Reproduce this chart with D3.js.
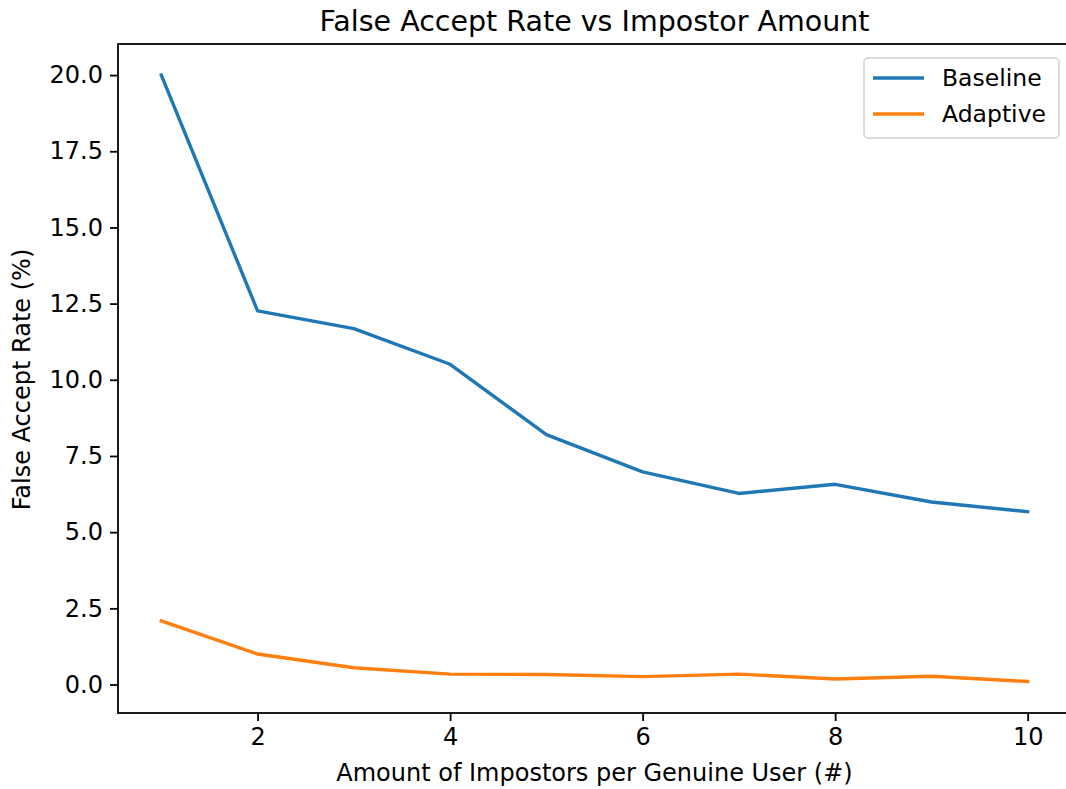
<!DOCTYPE html>
<html>
<head>
<meta charset="utf-8">
<script src="https://cdn.jsdelivr.net/npm/d3@7"></script>
<style>
  html, body { margin: 0; padding: 0; background: #fff; }
  svg { display: block; font-family: "DejaVu Sans", sans-serif; }
</style>
</head>
<body>
<svg id="chart" width="1066" height="789"></svg>
<script>
const impostors = [1, 2, 3, 4, 5, 6, 7, 8, 9, 10];
const baseline = [20.0, 12.26, 11.68, 10.51, 8.20, 6.98, 6.27, 6.57, 5.99, 5.67];
const adaptive = [2.09, 1.00, 0.55, 0.34, 0.33, 0.26, 0.34, 0.18, 0.27, 0.10];
const xTicks = [2, 4, 6, 8, 10];
const yTicks = [0, 2.5, 5, 7.5, 10, 12.5, 15, 17.5, 20];
const seriesNames = ["Baseline", "Adaptive"];
const seriesColors = ["#1f77b4", "#ff7f0e"];

const svg = d3.select("#chart");
const mLeft = 118, mRight = 1071, mTop = 44, mBottom = 713;

const x = d3.scaleLinear().domain([0.55, 10.45]).range([mLeft, mRight]);
const y = d3.scaleLinear().domain([-0.935, 21.02]).range([mBottom, mTop]);

const fs = 23.5;
const tickFs = 24;

// lines
const line = d3.line().x((d, i) => x(impostors[i])).y(d => y(d));
[baseline, adaptive].forEach((s, k) => {
  svg.append("path")
    .datum(s)
    .attr("d", line)
    .attr("fill", "none")
    .attr("stroke", seriesColors[k])
    .attr("stroke-width", 3.4)
    .attr("stroke-linejoin", "round")
    .attr("stroke-linecap", "square");
});

// axes
const xAxis = d3.axisBottom(x).tickValues(xTicks).tickFormat(d3.format("d")).tickSizeInner(8).tickSizeOuter(0).tickPadding(6);
const yAxis = d3.axisLeft(y).tickValues(yTicks).tickFormat(d3.format(".1f")).tickSizeInner(8).tickSizeOuter(0).tickPadding(7);

const gx = svg.append("g").attr("transform", `translate(0,${mBottom})`).call(xAxis);
const gy = svg.append("g").attr("transform", `translate(${mLeft},0)`).call(yAxis);
[gx, gy].forEach(g => {
  g.select(".domain").remove();
  g.selectAll(".tick line").attr("stroke", "#000").attr("stroke-width", 1.8);
  g.selectAll(".tick text").attr("fill", "#000").attr("font-size", tickFs).attr("font-family", "DejaVu Sans");
});
gx.selectAll(".tick text").attr("dy", "0.76em");

// frame
svg.append("rect")
  .attr("x", mLeft).attr("y", mTop)
  .attr("width", mRight - mLeft).attr("height", mBottom - mTop)
  .attr("fill", "none").attr("stroke", "#000").attr("stroke-width", 1.8);

// title
svg.append("text")
  .attr("x", (mLeft + mRight) / 2).attr("y", 31)
  .attr("text-anchor", "middle")
  .attr("font-size", 28.5)
  .attr("fill", "#000")
  .text("False Accept Rate vs Impostor Amount");

// x label
svg.append("text")
  .attr("x", (mLeft + mRight) / 2).attr("y", 781)
  .attr("text-anchor", "middle")
  .attr("font-size", 24)
  .attr("fill", "#000")
  .text("Amount of Impostors per Genuine User (#)");

// y label
svg.append("text")
  .attr("transform", `translate(30,${(mTop + mBottom) / 2 + 1}) rotate(-90)`)
  .attr("text-anchor", "middle")
  .attr("font-size", 24)
  .attr("fill", "#000")
  .text("False Accept Rate (%)");

// legend
const lg = svg.append("g");
lg.append("rect")
  .attr("x", 864).attr("y", 58).attr("width", 195).attr("height", 80)
  .attr("rx", 4).attr("ry", 4)
  .attr("fill", "#fff").attr("fill-opacity", 0.8)
  .attr("stroke", "#d0d0d0").attr("stroke-width", 1.5);
seriesNames.forEach((name, k) => {
  const yy = 78 + k * 36;
  lg.append("line")
    .attr("x1", 873).attr("x2", 924).attr("y1", yy).attr("y2", yy)
    .attr("stroke", seriesColors[k]).attr("stroke-width", 3.4);
  lg.append("text")
    .attr("x", 942).attr("y", yy).attr("dy", "0.36em")
    .attr("font-size", fs).attr("fill", "#000")
    .text(name);
});
</script>
</body>
</html>
